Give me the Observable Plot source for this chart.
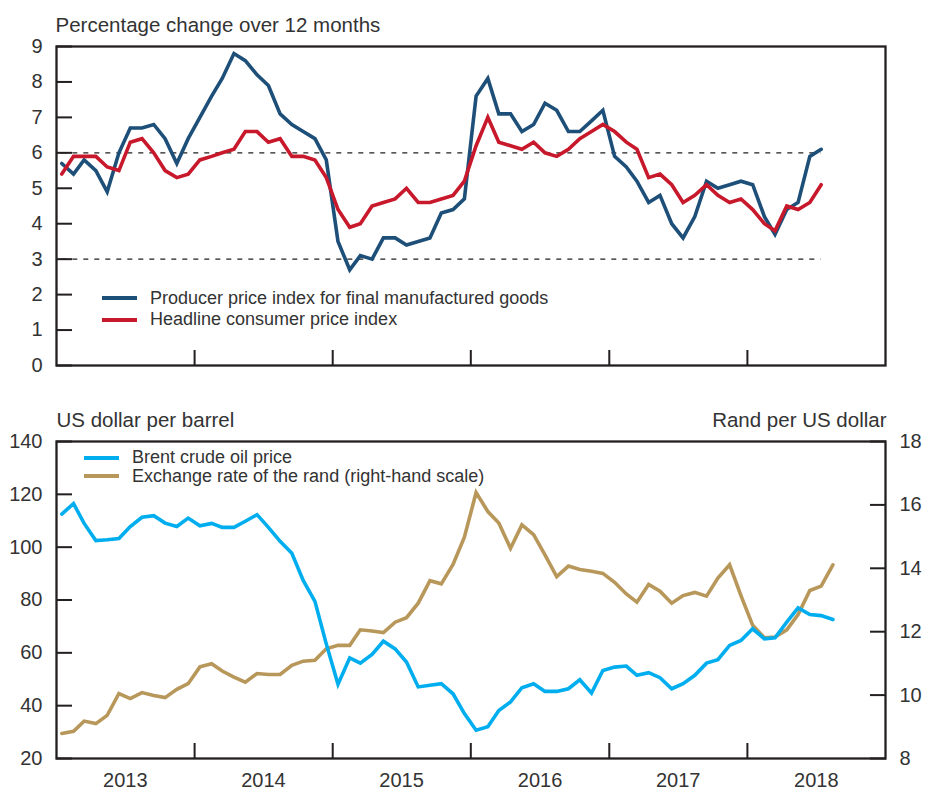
<!DOCTYPE html>
<html>
<head>
<meta charset="utf-8">
<script src="https://cdn.jsdelivr.net/npm/d3@7"></script>
<script src="https://cdn.jsdelivr.net/npm/@observablehq/plot@0.6"></script>
<style>
  html, body { margin: 0; padding: 0; background: #fff; }
  #wrap { position: relative; width: 928px; height: 792px; overflow: hidden;
          font-family: "Liberation Sans", Arial, sans-serif; color: #333; }
  #topPanel, #bottomPanel { position: absolute; left: 0; }
  #topPanel { top: 0; }
  #bottomPanel { top: 392px; }
  .leg { position: absolute; display: flex; align-items: center; height: 22px;
         font-size: 18px; color: #333; white-space: nowrap; }
  .sw { width: 35px; height: 4px; margin-right: 13px; flex: none; }
</style>
</head>
<body>
<div id="wrap">
  <div id="topPanel"></div>
  <div id="bottomPanel"></div>
</div>
<script>
// ---- data (monthly, Jan 2013 onward) ----
const startMonth = "2013-01-01";
const ppi = [5.7,5.4,5.8,5.5,4.9,6.0,6.7,6.7,6.8,6.4,
             5.7,6.4,7.0,7.6,8.1,8.8,8.6,8.2,7.9,7.1,
             6.8,6.6,6.4,5.8,3.5,2.7,3.1,3.0,3.6,3.6,
             3.4,3.5,3.6,4.3,4.4,4.7,7.6,8.1,7.1,7.1,
             6.6,6.8,7.4,7.2,6.6,6.6,6.9,7.2,5.9,5.6,
             5.2,4.6,4.8,4.0,3.6,4.2,5.2,5.0,5.1,5.2,
             5.1,4.2,3.7,4.4,4.6,5.9,6.1];
const cpi = [5.4,5.9,5.9,5.9,5.6,5.5,6.3,6.4,6.0,5.5,
             5.3,5.4,5.8,5.9,6.0,6.1,6.6,6.6,6.3,6.4,
             5.9,5.9,5.8,5.3,4.4,3.9,4.0,4.5,4.6,4.7,
             5.0,4.6,4.6,4.7,4.8,5.2,6.2,7.0,6.3,6.2,
             6.1,6.3,6.0,5.9,6.1,6.4,6.6,6.8,6.6,6.3,
             6.1,5.3,5.4,5.1,4.6,4.8,5.1,4.8,4.6,4.7,
             4.4,4.0,3.8,4.5,4.4,4.6,5.1];
const brent = [112.5,116.5,109,102.5,102.8,103.3,107.8,111.3,111.9,109.1,
               107.8,111,108.1,109,107.5,107.5,109.8,112.3,107.5,102.2,
               97.7,87.4,79.5,63.4,48.1,58.1,56.1,59.4,64.4,61.5,
               56.5,47.1,47.7,48.3,44.5,37.0,30.7,32.0,38.2,41.4,
               46.8,48.3,45.4,45.4,46.4,49.8,44.8,53.3,54.6,55.0,
               51.5,52.5,50.6,46.4,48.3,51.5,56.1,57.4,62.8,64.7,
               69.1,65.3,65.7,71.6,77.0,74.5,74.1,72.6];
const rand = [8.79,8.86,9.18,9.10,9.36,10.05,9.89,10.08,9.99,9.92,
              10.18,10.36,10.89,10.99,10.76,10.57,10.41,10.68,10.65,10.65,
              10.94,11.07,11.10,11.46,11.57,11.57,12.06,12.02,11.97,12.30,
              12.44,12.90,13.61,13.51,14.12,14.98,16.39,15.79,15.43,14.63,
              15.37,15.06,14.42,13.74,14.07,13.96,13.91,13.84,13.56,13.19,
              12.93,13.49,13.28,12.90,13.14,13.24,13.12,13.69,14.11,13.14,
              12.20,11.81,11.83,12.06,12.54,13.30,13.44,14.11];
const yearLabels = ["2013","2014","2015","2016","2017","2018"];
const topTicks = [0,1,2,3,4,5,6,7,8,9];
const targetRange = [3, 6];
const leftTicks = [20,40,60,80,100,120,140];
const rightTicks = [8,10,12,14,16,18];
const names = {
  ppi: "Producer price index for final manufactured goods",
  cpi: "Headline consumer price index",
  brent: "Brent crude oil price",
  rand: "Exchange rate of the rand (right-hand scale)"
};
const colors = { ppi: "#1d4f79", cpi: "#c8182b", brent: "#00aeef", rand: "#b8975a" };

// ---- helpers ----
const month0 = new Date(startMonth + "T00:00:00Z");
const dateOf = i => d3.utcDay.offset(d3.utcMonth.offset(month0, i), 14);
const xDomain = [month0, d3.utcYear.offset(month0, 6)];
const yearStarts = yearLabels.slice(1).map(y => new Date(Date.UTC(+y, 0, 1)));
const yearMids = yearLabels.map(y => new Date(Date.UTC(+y, 6, 2)));
const topData = ppi.map((v, i) => ({date: dateOf(i), ppi: v, cpi: cpi[i]}));
const botData = brent.map((v, i) => ({date: dateOf(i), brent: v, rand: rand[i]}));
// map rand (8..18) onto the left scale (20..140)
const r2l = r => 20 + (r - 8) * 12;
const l2r = v => (v - 20) / 12 + 8;

const FONT = "'Liberation Sans', Arial, sans-serif";
const INK = "#231f20";
const TXT = "#333";

// ---- top panel ----
const topChart = Plot.plot({
  width: 928, height: 392,
  marginLeft: 56, marginRight: 43, marginTop: 46, marginBottom: 27,
  style: {fontFamily: FONT, fontSize: "20px", color: TXT, background: "transparent", overflow: "visible"},
  x: {type: "utc", domain: xDomain, axis: null},
  y: {domain: [0, 9], axis: null},
  marks: [
    Plot.ruleY(targetRange.map(v => ({v, a: topData[0].date, b: topData[topData.length - 1].date})),
      {y: "v", x1: "a", x2: "b", stroke: INK, strokeWidth: 1.4, strokeDasharray: "5,6"}),
    Plot.axisY(topTicks, {anchor: "left", tickSize: -16, fill: "none", stroke: INK, strokeWidth: 2, label: null}),
    Plot.axisY(topTicks, {anchor: "left", tickSize: 0, tickPadding: 14, fill: TXT, fontSize: 20, label: null}),
    Plot.axisX(yearStarts, {anchor: "bottom", tickSize: -15, fill: "none", stroke: INK, strokeWidth: 2, label: null}),
    Plot.line(topData, {x: "date", y: "ppi", stroke: colors.ppi, strokeWidth: 3.6, strokeLinejoin: "miter", strokeMiterlimit: 4}),
    Plot.line(topData, {x: "date", y: "cpi", stroke: colors.cpi, strokeWidth: 3.6, strokeLinejoin: "miter", strokeMiterlimit: 4}),
    Plot.frame({stroke: INK, strokeWidth: 2.3}),
    Plot.text(["Percentage change over 12 months"], {text: d => d, frameAnchor: "top-left", textAnchor: "start",
      lineAnchor: "bottom", dy: -15, dx: -1, fontSize: 20.5, fill: TXT})
  ]
});
document.getElementById("topPanel").appendChild(topChart);

// ---- bottom panel ----
const bottomChart = Plot.plot({
  width: 928, height: 400,
  marginLeft: 56, marginRight: 43, marginTop: 49, marginBottom: 34,
  style: {fontFamily: FONT, fontSize: "20px", color: TXT, background: "transparent", overflow: "visible"},
  x: {type: "utc", domain: xDomain, axis: null},
  y: {domain: [20, 140], axis: null},
  marks: [
    Plot.axisY(leftTicks, {anchor: "left", tickSize: -16, fill: "none", stroke: INK, strokeWidth: 2, label: null}),
    Plot.axisY(leftTicks, {anchor: "left", tickSize: 0, tickPadding: 14, fill: TXT, fontSize: 20, label: null}),
    Plot.axisY(rightTicks.map(r2l), {anchor: "right", tickSize: -16, fill: "none", stroke: INK, strokeWidth: 2, label: null}),
    Plot.axisY(rightTicks.map(r2l), {anchor: "right", tickSize: 0, tickPadding: 14, fill: TXT, fontSize: 20,
      tickFormat: v => String(Math.round(l2r(v))), label: null}),
    Plot.axisX(yearStarts, {anchor: "bottom", tickSize: -15, fill: "none", stroke: INK, strokeWidth: 2, label: null}),
    Plot.axisX(yearMids, {anchor: "bottom", tickSize: 0, tickPadding: 14, fill: TXT, fontSize: 20,
      tickFormat: d => yearLabels[yearMids.findIndex(m => +m === +d)], label: null}),
    Plot.line(botData, {x: "date", y: d => r2l(d.rand), stroke: colors.rand, strokeWidth: 3.6, strokeLinejoin: "miter", strokeMiterlimit: 4}),
    Plot.line(botData, {x: "date", y: "brent", stroke: colors.brent, strokeWidth: 3.6, strokeLinejoin: "miter", strokeMiterlimit: 4}),
    Plot.frame({stroke: INK, strokeWidth: 2.3}),
    Plot.text(["US dollar per barrel"], {text: d => d, frameAnchor: "top-left", textAnchor: "start",
      lineAnchor: "bottom", dy: -15, dx: 0, fontSize: 20.5, fill: TXT}),
    Plot.text(["Rand per US dollar"], {text: d => d, frameAnchor: "top-right", textAnchor: "end",
      lineAnchor: "bottom", dy: -15, dx: 1, fontSize: 20.5, fill: TXT})
  ]
});
document.getElementById("bottomPanel").appendChild(bottomChart);

// ---- legends (inside the panels) ----
const wrap = document.getElementById("wrap");
function legendRow(key, left, centerY) {
  const row = document.createElement("div");
  row.className = "leg";
  row.style.left = left + "px";
  row.style.top = (centerY - 11) + "px";
  const sw = document.createElement("span");
  sw.className = "sw";
  sw.style.background = colors[key];
  const label = document.createElement("span");
  label.textContent = names[key];
  row.appendChild(sw);
  row.appendChild(label);
  wrap.appendChild(row);
}
legendRow("ppi", 102, 298);
legendRow("cpi", 102, 319.5);
legendRow("brent", 84, 457.5);
legendRow("rand", 84, 476);
</script>
</body>
</html>
